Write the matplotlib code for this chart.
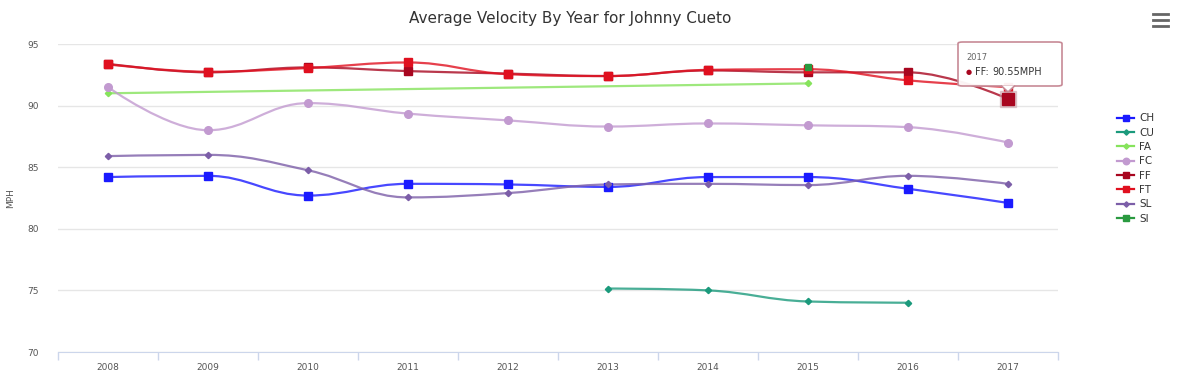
import numpy as np
import matplotlib
matplotlib.use("Agg")
import matplotlib.pyplot as plt
from matplotlib.path import Path
from matplotlib.patches import PathPatch, FancyBboxPatch, Polygon
from matplotlib.lines import Line2D

years = [2008, 2009, 2010, 2011, 2012, 2013, 2014, 2015, 2016, 2017]

ch = [84.2, 84.3, 82.7, 83.65, 83.6, 83.4, 84.2, 84.2, 83.25, 82.1]
cu_years = [2013, 2014, 2015, 2016]
cu = [75.15, 75.0, 74.1, 74.0]
fa_years = [2008, 2015]
fa = [91.0, 91.8]
fc = [91.5, 88.0, 90.2, 89.35, 88.8, 88.3, 88.55, 88.4, 88.25, 87.0]
ff = [93.4, 92.7, 93.1, 92.8, 92.6, 92.4, 92.85, 92.7, 92.7, 90.55]
ft = [93.35, 92.75, 93.05, 93.5, 92.55, 92.4, 92.9, 92.95, 92.05, 91.5]
sl = [85.9, 86.0, 84.75, 82.55, 82.9, 83.6, 83.65, 83.55, 84.3, 83.65]
si_years = [2015]
si = [93.1]

series = [
    ("CH", years, ch, "#1a1aff", "s", 5.5),
    ("CU", cu_years, cu, "#1b9a7c", "D", 3.2),
    ("FA", fa_years, fa, "#86e35c", "D", 3.2),
    ("FC", years, fc, "#c29ad0", "o", 5.5),
    ("FF", years, ff, "#a8061f", "s", 5.5),
    ("FT", years, ft, "#e0101f", "s", 5.5),
    ("SL", years, sl, "#7c5ea8", "D", 3.2),
    ("SI", si_years, si, "#2a9a40", "s", 4.5),
]

W, H = 1200, 379
fig = plt.figure(figsize=(12, 3.79), dpi=100)
L, R, T, B = 58, 1058, 44, 352
ax = fig.add_axes([L / W, 1 - B / H, (R - L) / W, (B - T) / H])


def spline_path(xs, ys, smoothing=1.5):
    xs = [float(v) for v in xs]
    ys = [float(v) for v in ys]
    n = len(xs)
    if n == 1:
        return None
    lc = [None] * n
    rc = [None] * n
    for i in range(n):
        if i == 0 or i == n - 1:
            lc[i] = (xs[i], ys[i])
            rc[i] = (xs[i], ys[i])
            continue
        d = smoothing + 1
        lx = (smoothing * xs[i] + xs[i - 1]) / d
        ly = (smoothing * ys[i] + ys[i - 1]) / d
        rx = (smoothing * xs[i] + xs[i + 1]) / d
        ry = (smoothing * ys[i] + ys[i + 1]) / d
        corr = (ry - ly) * (rx - xs[i]) / (rx - lx) + ys[i] - ry
        ly += corr
        ry += corr
        if ly > ys[i - 1] and ly > ys[i]:
            ly = max(ys[i - 1], ys[i]); ry = 2 * ys[i] - ly
        elif ly < ys[i - 1] and ly < ys[i]:
            ly = min(ys[i - 1], ys[i]); ry = 2 * ys[i] - ly
        if ry > ys[i + 1] and ry > ys[i]:
            ry = max(ys[i + 1], ys[i]); ly = 2 * ys[i] - ry
        elif ry < ys[i + 1] and ry < ys[i]:
            ry = min(ys[i + 1], ys[i]); ly = 2 * ys[i] - ry
        lc[i] = (lx, ly)
        rc[i] = (rx, ry)
    verts = [(xs[0], ys[0])]
    codes = [Path.MOVETO]
    for i in range(1, n):
        verts += [rc[i - 1], lc[i], (xs[i], ys[i])]
        codes += [Path.CURVE4] * 3
    return Path(verts, codes)


handles = []
for name, xs, ys, col, mk, ms in series:
    p = spline_path(xs, ys)
    if p is not None:
        ax.add_patch(PathPatch(p, facecolor="none", edgecolor=col, lw=1.6,
                               alpha=0.8, zorder=3, capstyle="round"))
    ax.plot(xs, ys, linestyle="none", marker=mk, ms=ms, color=col, zorder=4)
    handles.append(Line2D([0], [0], color=col, lw=1.6, marker=mk, ms=ms * 0.85))

# hover state for FF 2017
ax.plot([years[-1]], [ff[-1]], linestyle="none", marker="s", ms=11,
        color="#c9a0a8", alpha=0.5, zorder=5)
ax.plot([years[-1]], [ff[-1]], linestyle="none", marker="s", ms=8.5,
        color="#a8061f", zorder=6)

ax.set_xlim(2007.5, 2017.5)
ax.set_ylim(70, 95)
ax.set_yticks([70, 75, 80, 85, 90, 95])
ax.set_xticks(years)
ax.set_xticks([y + 0.5 for y in years[:-1]] + [2007.5, 2017.5], minor=True)
ax.tick_params(axis="x", which="major", length=0, labelsize=6.5,
               labelcolor="#555555", pad=8)
ax.tick_params(axis="x", which="minor", length=6, color="#ccd6eb", width=1)
ax.tick_params(axis="y", length=0, labelsize=6.5, labelcolor="#555555", pad=14)
ax.grid(axis="y", color="#e6e6e6", lw=1)
ax.set_axisbelow(True)
for s in ["top", "right", "left"]:
    ax.spines[s].set_visible(False)
ax.spines["bottom"].set_color("#ccd6eb")
ax.set_ylabel("MPH", fontsize=6.5, color="#555555")
ax.yaxis.set_label_coords(-(58 - 15) / 1000, 0.5)

fig.text(570 / W, 1 - 18 / H, "Average Velocity By Year for Johnny Cueto",
         ha="center", va="center", fontsize=11, color="#333333")

leg = fig.legend(handles, [s[0] for s in series], loc="upper left",
                 bbox_to_anchor=(1113 / W, 1 - 109 / H), frameon=False,
                 fontsize=7.5, handlelength=1.6, handletextpad=0.5,
                 labelspacing=0.42, borderaxespad=0)
for t in leg.get_texts():
    t.set_color("#333333")

# tooltip
bx0, by0, bx1, by1 = 958, 42, 1062, 86
box = FancyBboxPatch((bx0 / W, 1 - by1 / H), (bx1 - bx0) / W, (by1 - by0) / H,
                     boxstyle="round,pad=0,rounding_size=0.004",
                     transform=fig.transFigure, facecolor="#fffffff0",
                     edgecolor="#c78a96", lw=1.2, zorder=10)
fig.add_artist(box)
ptr = Polygon([(1001 / W, 1 - 85.5 / H), (1008 / W, 1 - 92 / H), (1015 / W, 1 - 85.5 / H)],
              closed=False, transform=fig.transFigure, facecolor="white",
              edgecolor="#c78a96", lw=1.2, zorder=11)
fig.add_artist(ptr)
fig.text(966 / W, 1 - 57 / H, "2017", fontsize=6, color="#666666", va="center", zorder=12)
fig.text(966 / W, 1 - 72 / H, "\u25cf", fontsize=5, color="#a8061f", va="center", zorder=12)
fig.text(975 / W, 1 - 72 / H, "FF:", fontsize=7, color="#333333", va="center", zorder=12)
fig.text(992 / W, 1 - 72 / H, "90.55MPH", fontsize=7, color="#333333", va="center", zorder=12)

# menu icon
for yy in [14, 20, 26]:
    fig.add_artist(Line2D([1153 / W, 1168 / W], [1 - yy / H, 1 - yy / H],
                          transform=fig.transFigure, color="#666666", lw=2))

fig.savefig("out.png", dpi=100, facecolor="white")
